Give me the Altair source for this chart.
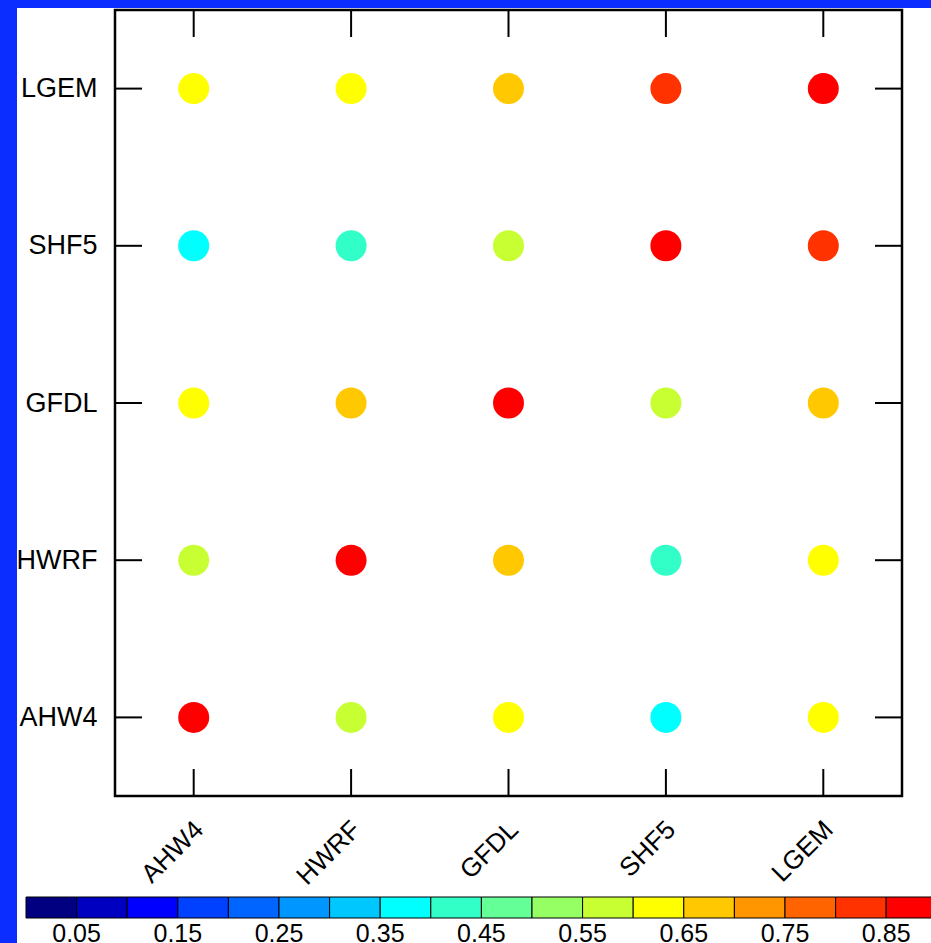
import altair as alt
import pandas as pd

# ---------------- data ----------------
models = ["AHW4", "HWRF", "GFDL", "SHF5", "LGEM"]
corr_AHW4 = [1.00, 0.57, 0.62, 0.37, 0.62]
corr_HWRF = [0.57, 1.00, 0.67, 0.42, 0.62]
corr_GFDL = [0.62, 0.67, 1.00, 0.57, 0.67]
corr_SHF5 = [0.37, 0.42, 0.57, 1.00, 0.82]
corr_LGEM = [0.62, 0.62, 0.67, 0.82, 1.00]
rows = [corr_AHW4, corr_HWRF, corr_GFDL, corr_SHF5, corr_LGEM]

bin_edges = [round(0.05 * i, 2) for i in range(21)]
bin_colors = ["#000080", "#0000c0", "#0000ff", "#0040ff", "#0064ff",
              "#0096ff", "#00c8ff", "#00ffff", "#32ffc8", "#64ff96",
              "#96ff64", "#c8ff32", "#ffff00", "#ffc800", "#ff9600",
              "#ff6400", "#ff3200", "#ff0000", "#ff0000", "#ff0000"]
cbar_ticks = [0.05, 0.15, 0.25, 0.35, 0.45, 0.55, 0.65, 0.75, 0.85, 0.95]

cells = pd.DataFrame([
    {"row": models[i], "col": models[j], "r": rows[i][j]}
    for i in range(5) for j in range(5)
])
tick_df = pd.DataFrame({"row": models, "col": models})
cbar_df = pd.DataFrame({
    "lo": bin_edges[:-1],
    "hi": bin_edges[1:],
    "mid": [(a + b) / 2 for a, b in zip(bin_edges[:-1], bin_edges[1:])],
})
cbar_lab = pd.DataFrame({"v": cbar_ticks, "lab": [f"{v:.2f}" for v in cbar_ticks]})
one = alt.Data(values=[{"k": 1}])

# ---------------- layout ----------------
W, H = 787, 786
PL, PT, PR, PB = 115, 10, 29, 147
FONT = "Liberation Sans"
TICK = 27

color_scale = alt.Scale(type="threshold", domain=bin_edges[1:-1], range=bin_colors)
xs = alt.Scale(type="point", padding=0.5, domain=models)
ys = alt.Scale(type="point", padding=0.5, domain=models[::-1])
xaxis = alt.Axis(domain=False, ticks=False, labelAngle=315,
                 labelAlign="right", labelBaseline="middle",
                 labelFont=FONT, labelFontSize=26, labelColor="black",
                 labelPadding=29, labelOffset=5, title=None)
yaxis = alt.Axis(domain=False, ticks=False, labelFont=FONT,
                 labelFontSize=27, labelColor="black", labelPadding=18, title=None)

X = alt.X("col:N", scale=xs, axis=xaxis)
Y = alt.Y("row:N", scale=ys, axis=yaxis)

circles = alt.Chart(cells).mark_circle(size=960, opacity=1).encode(
    x=X, y=Y,
    color=alt.Color("r:Q", scale=color_scale, legend=None),
)

rule_style = dict(color="black", strokeWidth=2)
tx_bottom = alt.Chart(tick_df).mark_rule(**rule_style).encode(
    x=X, y=alt.value(H), y2=alt.value(H - TICK))
tx_top = alt.Chart(tick_df).mark_rule(**rule_style).encode(
    x=X, y=alt.value(0), y2=alt.value(TICK))
ty_left = alt.Chart(tick_df).mark_rule(**rule_style).encode(
    y=Y, x=alt.value(0), x2=alt.value(TICK))
ty_right = alt.Chart(tick_df).mark_rule(**rule_style).encode(
    y=Y, x=alt.value(W), x2=alt.value(W - TICK))

frame = alt.Chart(one).mark_rect(fillOpacity=0, stroke="black", strokeWidth=2.5).encode(
    x=alt.value(0), x2=alt.value(W), y=alt.value(0), y2=alt.value(H))

main = alt.layer(circles, tx_bottom, tx_top, ty_left, ty_right, frame)

# colour bar (independent x scale)
cb_scale = alt.Scale(domain=[0, 1], range=[26 - PL, 1038 - PL], nice=False, zero=False)
cbar_rects = alt.Chart(cbar_df).mark_rect(stroke="black", strokeWidth=1, opacity=1).encode(
    x=alt.X("lo:Q", scale=cb_scale, axis=None),
    x2="hi:Q",
    y=alt.value(897 - PT), y2=alt.value(918 - PT),
    color=alt.Color("mid:Q", scale=color_scale, legend=None),
)
cbar_text = alt.Chart(cbar_lab).mark_text(
    font=FONT, fontSize=25, color="black", baseline="alphabetic", align="center"
).encode(
    x=alt.X("v:Q", scale=cb_scale, axis=None),
    y=alt.value(942 - PT),
    text="lab:N",
)
cbar = alt.layer(cbar_rects, cbar_text)

# blue page strips (top and left)
blue = "#0b2dff"
strip_top = alt.Chart(one).mark_rect(color=blue).encode(
    x=alt.value(-PL), x2=alt.value(W + PR), y=alt.value(-PT), y2=alt.value(8 - PT))
strip_left = alt.Chart(one).mark_rect(color=blue).encode(
    x=alt.value(-PL), x2=alt.value(17 - PL), y=alt.value(-PT), y2=alt.value(H + PB))

chart = alt.layer(strip_top, strip_left, main, cbar).resolve_scale(
    x="independent"
).properties(
    width=W, height=H,
    autosize=alt.AutoSizeParams(type="none"),
    padding={"left": PL, "top": PT, "right": PR, "bottom": PB},
    background="white",
).configure_view(stroke=None)

chart.save("out.html", embed_options={"renderer": "svg", "actions": False})
